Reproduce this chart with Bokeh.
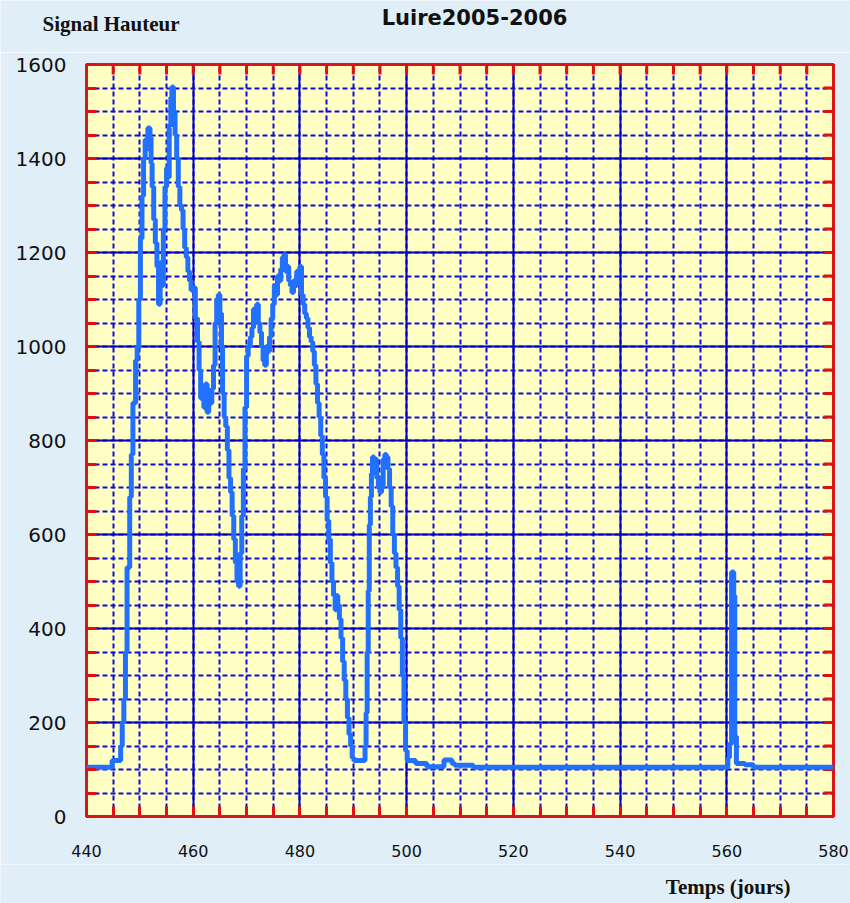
import numpy as np
from bokeh.plotting import figure
from bokeh.models import SingleIntervalTicker, Range1d, Label
from bokeh.layouts import column
from bokeh.embed import file_html
from bokeh.resources import INLINE

# ---- data ----
days = [440.0, 444.8, 446.4, 446.7, 447.0, 447.3, 447.6, 448.1, 448.4, 448.7,
        449.2, 449.5, 449.8, 450.1, 450.4, 450.7, 451.0, 451.3, 451.5, 451.9,
        452.1, 452.3, 452.6, 452.9, 453.2, 453.5, 453.8, 454.0, 454.2, 454.4,
        454.7, 455.0, 455.3, 455.5, 455.8, 456.0, 456.3, 456.6, 456.9, 457.2,
        457.5, 457.8, 458.1, 458.4, 458.7, 459.0, 459.3, 459.6, 460.0, 460.4,
        460.8, 461.1, 461.4, 461.7, 462.0, 462.3, 462.6, 462.9, 463.2, 463.5,
        463.8, 464.1, 464.4, 464.7, 465.0, 465.3, 465.5, 465.8, 466.1, 466.4,
        466.7, 467.0, 467.3, 467.6, 467.9, 468.2, 468.5, 468.8, 469.1, 469.4,
        469.7, 470.0, 470.3, 470.7, 471.0, 471.3, 471.6, 471.9, 472.2, 472.5,
        472.8, 473.1, 473.4, 473.7, 474.0, 474.3, 474.6, 474.9, 475.2, 475.5,
        475.8, 476.1, 476.4, 476.7, 477.0, 477.3, 477.6, 477.9, 478.2, 478.5,
        478.8, 479.1, 479.4, 479.7, 480.0, 480.3, 480.6, 480.9, 481.2, 481.5,
        481.8, 482.1, 482.4, 482.7, 483.0, 483.3, 483.6, 483.9, 484.2, 484.5,
        484.8, 485.1, 485.4, 485.7, 486.0, 486.3, 486.6, 486.9, 487.1, 487.4,
        487.7, 488.0, 488.3, 488.6, 488.9, 489.2, 489.5, 489.8, 490.1, 492.2,
        492.4, 492.6, 492.8, 493.0, 493.2, 493.4, 493.6, 493.9, 494.2, 494.4,
        494.7, 495.0, 495.3, 495.6, 495.9, 496.2, 496.5, 496.8, 497.1, 497.4,
        497.7, 498.0, 498.3, 498.6, 498.9, 499.2, 499.5, 499.8, 500.1, 501.7,
        503.8, 507.0, 508.5, 509.0, 512.5, 560.2, 560.5, 560.9, 561.3, 561.5,
        561.8, 563.4, 565.0, 580.0]
signal = [105, 119, 150, 200, 250, 350, 530, 680, 770, 880,
          970, 1000, 1100, 1230, 1320, 1400, 1440, 1420, 1465, 1445,
          1390, 1340, 1270, 1220, 1170, 1090, 1140, 1180, 1130, 1250,
          1340, 1380, 1360, 1470, 1530, 1552, 1500, 1450, 1400, 1340,
          1300, 1290, 1250, 1210, 1190, 1160, 1140, 1120, 1125, 1060,
          1010, 950, 890, 900, 870, 920, 860, 900, 880, 910,
          960, 1050, 1100, 1110, 1070, 1000, 900, 850, 830, 780,
          720, 690, 640, 590, 540, 500, 490, 560, 640, 740,
          870, 980, 1000, 1020, 1040, 1080, 1070, 1090, 1050, 1030,
          1000, 970, 960, 1000, 990, 1020, 1060, 1090, 1130, 1110,
          1150, 1140, 1165, 1190, 1195, 1160, 1170, 1140, 1130, 1115,
          1140, 1130, 1160, 1150, 1170, 1110, 1090, 1070, 1060, 1040,
          1020, 1010, 990, 960, 920, 880, 850, 810, 770, 720,
          680, 630, 590, 540, 500, 470, 440, 470, 450, 420,
          380, 330, 290, 250, 210, 175, 150, 125, 119, 150,
          220, 350, 480, 620, 680, 730, 765, 740, 760, 720,
          700, 690, 700, 760, 770, 765, 740, 700, 660, 600,
          560, 530, 490, 440, 380, 300, 200, 140, 119, 113,
          106, 120, 113, 109, 105, 125, 155, 520, 470, 170,
          113, 110, 105, 105]

x_min, x_max = 440, 580
y_min, y_max = 0, 1600
x_major, x_minor = 20, 5
y_major, y_minor = 200, 50
title_text = "Luire2005-2006"
y_title = "Signal Hauteur"
x_title = "Temps (jours)"

RED = "#e01010"
PAGE = "#e0eef7"
W = 850
TOP_H, MAIN_H, BOT_H = 52, 812, 39


def text_strip(height):
    f = figure(width=W, height=height, x_range=Range1d(0, W), y_range=Range1d(0, height),
               output_backend="svg", toolbar_location=None, min_border=0)
    f.frame_align = False
    f.axis.visible = False
    f.grid.visible = False
    f.outline_line_color = None
    f.background_fill_color = PAGE
    f.border_fill_color = PAGE
    return f


# ---- top strip with the two headings ----
top = text_strip(TOP_H)
top.add_layout(Label(x=474, y=TOP_H - 17, text=title_text, text_align="center",
                     text_baseline="middle", text_font="DejaVu Sans",
                     text_font_style="bold", text_font_size="21px", text_color="#111111"))
top.add_layout(Label(x=42, y=TOP_H - 23, text=y_title, text_align="left",
                     text_baseline="middle", text_font="Liberation Serif",
                     text_font_style="bold", text_font_size="21px", text_color="#111111"))

# ---- main chart ----
p = figure(width=W, height=MAIN_H, x_range=Range1d(x_min, x_max), y_range=Range1d(y_min, y_max),
           output_backend="svg", toolbar_location=None,
           min_border_left=86, min_border_right=17, min_border_top=12, min_border_bottom=48)
p.frame_align = False
p.background_fill_color = "#ffffc4"
p.border_fill_color = PAGE
p.outline_line_color = "#d81818"
p.outline_line_width = 3

xt = SingleIntervalTicker(interval=x_major, num_minor_ticks=x_major // x_minor)
yt = SingleIntervalTicker(interval=y_major, num_minor_ticks=y_major // y_minor)


def style_axis(ax, font_size, standoff):
    ax.axis_line_color = None
    ax.major_tick_in = 10
    ax.major_tick_out = 0
    ax.minor_tick_in = 10
    ax.minor_tick_out = 0
    ax.major_tick_line_color = RED
    ax.minor_tick_line_color = RED
    ax.major_tick_line_width = 3
    ax.minor_tick_line_width = 3
    ax.major_label_text_font = "DejaVu Sans"
    ax.major_label_text_font_size = font_size
    ax.major_label_text_color = "#111111"
    ax.major_label_standoff = standoff


p.xaxis.ticker = xt
p.yaxis.ticker = yt
style_axis(p.xaxis[0], "16px", 28)
style_axis(p.yaxis[0], "20px", 20)

for g, t in ((p.xgrid[0], xt), (p.ygrid[0], yt)):
    g.ticker = t
    g.grid_line_color = "#0000c4"
    g.grid_line_width = 2
    g.minor_grid_line_color = "#0c0cdc"
    g.minor_grid_line_width = 2
    g.minor_grid_line_dash = "5 3"

# inward red ticks on the top and right frame edges (clipped half of a dash marker)
xtick_vals = np.arange(x_min, x_max + 0.1, x_minor)
ytick_vals = np.arange(y_min, y_max + 0.1, y_minor)
p.scatter(xtick_vals, np.full(len(xtick_vals), y_max), marker="dash", angle=np.pi / 2,
          size=20, line_color=RED, line_width=3)
p.scatter(np.full(len(ytick_vals), x_max), ytick_vals, marker="dash",
          size=20, line_color=RED, line_width=3)

p.step(days, signal, mode="after", line_color="#2270ff", line_width=5)

# ---- bottom strip with the x heading ----
bot = text_strip(BOT_H)
bot.add_layout(Label(x=790, y=17, text=x_title, text_align="right",
                     text_baseline="middle", text_font="Liberation Serif",
                     text_font_style="bold", text_font_size="21px", text_color="#111111"))

layout = column(top, p, bot, spacing=0)
open("out.html", "w").write(file_html(layout, INLINE))
